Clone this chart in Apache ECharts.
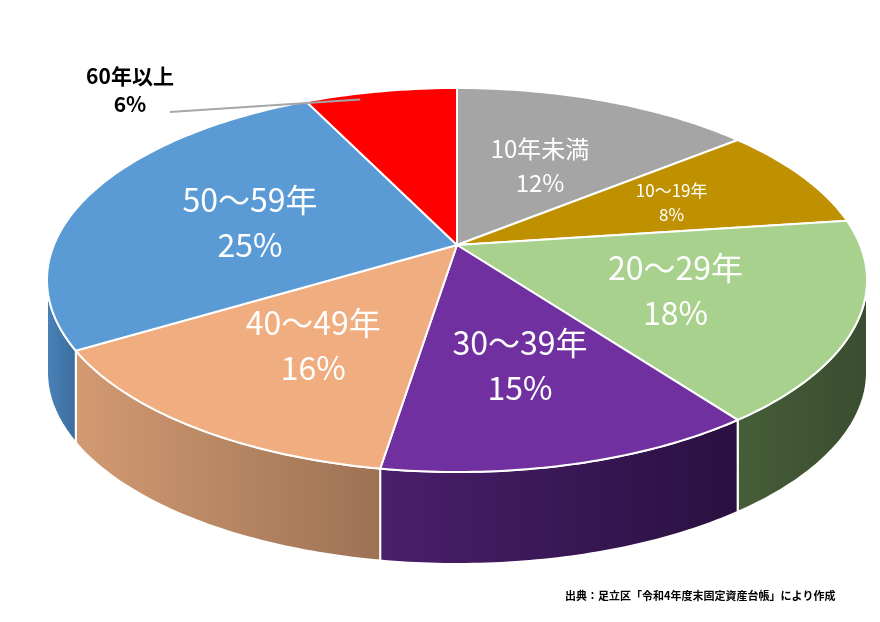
<!DOCTYPE html>
<html><head><meta charset="utf-8">
<script src="https://cdn.jsdelivr.net/npm/echarts@6/dist/echarts.min.js"></script>
<style>html,body{margin:0;background:#fff}#c{width:880px;height:622px}</style>
</head><body><div id="c"></div>
<script>
const categories=['10年未満','10～19年','20～29年','30～39年','40～49年','50～59年','60年以上'];
const values=[12,8,18,15,16,25,6];
const topColors=['#a5a5a5','#bf9000','#a9d18e','#7030a0','#f0ad80','#5b9bd5','#ff0000'];
const sideColors=[['#7a7a7a','#7a7a7a'],['#8a6800','#8a6800'],['#465e38','#3a4d30'],['#4a1f6c','#2a1040'],['#d39a72','#9c7254'],['#4a82b8','#3b6c9c'],['#c00000','#c00000']];
const labelSize=[24,17,32,32,32,32,20];
const source='出典：足立区「令和4年度末固定資産台帳」により作成';

const cx=457,cy=280,rx=410,ry=192,ax=457,ay=245,depth=92;
const total=values.reduce((a,b)=>a+b,0);
const starts=[];let acc=0;values.forEach(v=>{starts.push(acc/total*360);acc+=v;});
const ends=values.map((v,i)=>starts[i]+v/total*360);
const pt=(deg)=>{const t=deg*Math.PI/180;return [cx+rx*Math.sin(t),cy-ry*Math.cos(t)];};
function arc(a,b){const p=[];const n=Math.max(2,Math.ceil(b-a));for(let k=0;k<=n;k++)p.push(pt(a+(b-a)*k/n));return p;}

function sideItem(params){
  const i=params.dataIndex;
  const a=Math.max(starts[i],90),b=Math.min(ends[i],270);
  if(b<=a)return null;
  const top=arc(a,b);const bot=top.slice().reverse().map(p=>[p[0],p[1]+depth]);
  return {type:'polygon',shape:{points:top.concat(bot)},style:{fill:new echarts.graphic.LinearGradient(0,0,1,0,[{offset:0,color:sideColors[i][0]},{offset:1,color:sideColors[i][1]}]),stroke:'#fff',lineWidth:2}};
}
function topItem(params){
  const i=params.dataIndex;
  const pts=[[ax,ay]].concat(arc(starts[i],ends[i]));
  const children=[{type:'polygon',shape:{points:pts},style:{fill:topColors[i],stroke:'#fff',lineWidth:2}}];
  const m=(starts[i]+ends[i])/2;const e=pt(m);
  const pct=Math.round(values[i]/total*100)+'%';
  if(i===6){
    children.push({type:'polyline',shape:{points:[[e[0]-20,e[1]+8],[170,112]]},style:{stroke:'#a6a6a6',lineWidth:2,fill:null}});
    children.push({type:'text',x:130,y:90,style:{text:categories[i]+'\n'+pct,fill:'#000',font:'bold 21px "Noto Sans CJK JP"',align:'center',verticalAlign:'middle',lineHeight:28}});
  }else{
    const f=i===1?0.62:0.55;
    const x=ax+f*(e[0]-ax),y=ay+f*(e[1]-ay);
    children.push({type:'text',x:x,y:y,style:{text:categories[i]+'\n'+pct,fill:'#fff',font:labelSize[i]+'px "Noto Sans CJK JP"',align:'center',verticalAlign:'middle',lineHeight:labelSize[i]*1.4}});
  }
  return {type:'group',children:children};
}
const chart=echarts.init(document.getElementById('c'));
chart.setOption({
  animation:false,
  series:[
    {type:'custom',coordinateSystem:'none',data:values,renderItem:sideItem,z:1},
    {type:'custom',coordinateSystem:'none',data:values,renderItem:topItem,z:2}
  ],
  graphic:[{type:'text',left:565,top:590,style:{text:source,fill:'#000',font:'bold 11px "Noto Sans CJK JP"'}}]
});
</script></body></html>
